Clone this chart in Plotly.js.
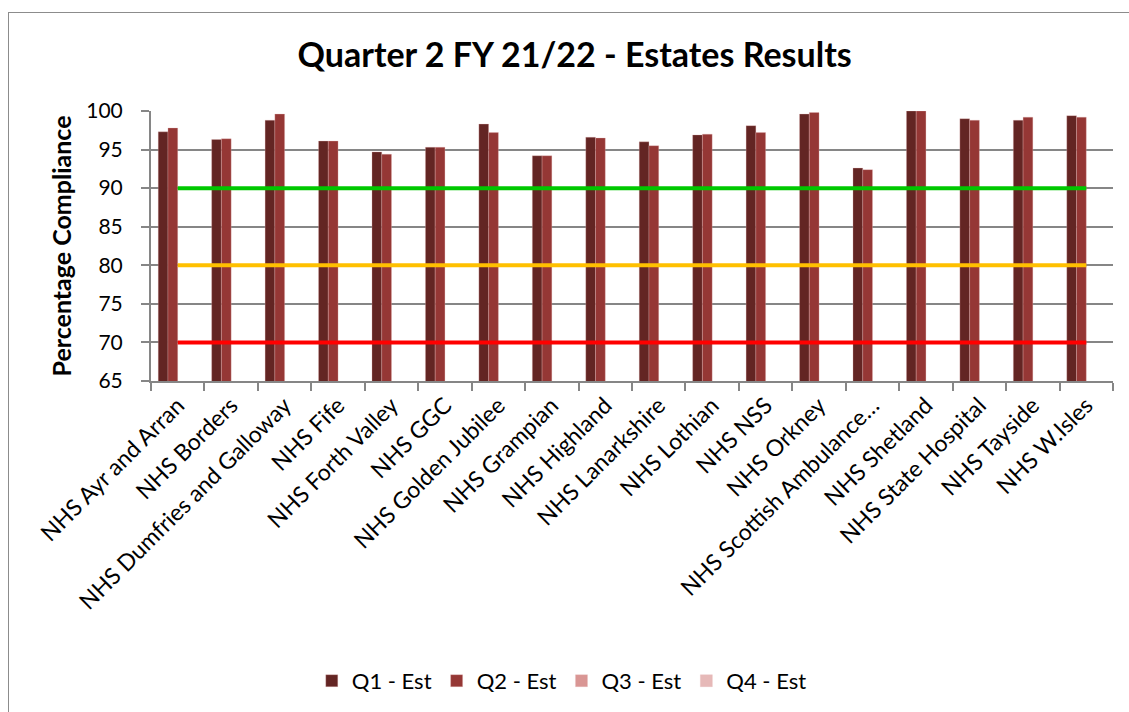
<!DOCTYPE html>
<html>
<head>
<meta charset="utf-8">
<script src="https://cdn.plot.ly/plotly-3.0.1.min.js"></script>
<style>
html,body{margin:0;padding:0;background:#fff;overflow:hidden;}
#frame{position:absolute;left:8px;top:12px;width:1140px;height:720px;border:1.5px solid #8c8c8c;box-sizing:border-box;}
#chart{position:absolute;left:0;top:0;width:1129px;height:712px;}
</style>
</head>
<body>
<div id="frame"></div>
<div id="chart"></div>
<script>
const categories = ["NHS Ayr and Arran","NHS Borders","NHS Dumfries and Galloway","NHS Fife","NHS Forth Valley","NHS GGC","NHS Golden Jubilee","NHS Grampian","NHS Highland","NHS Lanarkshire","NHS Lothian","NHS NSS","NHS Orkney","NHS Scottish Ambulance…","NHS Shetland","NHS State Hospital","NHS Tayside","NHS W.Isles"];
const q1 = [97.3,96.3,98.8,96.1,94.7,95.3,98.3,94.2,96.6,96.0,96.9,98.1,99.6,92.6,100,99.0,98.8,99.4];
const q2 = [97.8,96.4,99.6,96.1,94.4,95.3,97.2,94.2,96.5,95.5,97.0,97.2,99.8,92.4,100,98.8,99.2,99.2];
const q3 = categories.map(() => null);
const q4 = categories.map(() => null);
const seriesNames = ["Q1 - Est","Q2 - Est","Q3 - Est","Q4 - Est"];
const seriesColors = ["#632523","#953735","#D99694","#E6B9B8"];
const thresholds = [90, 80, 70];
const thresholdColors = ["#00C800","#FFC000","#FF0000"];

const seriesData = [q1,q2,q3,q4];
const traces = seriesData.map((vals,i) => ({
  type:"bar", x:categories, y:vals, name:seriesNames[i],
  marker:{color:seriesColors[i], line:{color:"rgba(230,185,184,0.6)", width:0.5}},
  hoverinfo:"x+y+name"
}));
thresholds.forEach((t,i) => {
  traces.push({type:"scatter", mode:"lines", x:categories, y:categories.map(()=>t),
    line:{color:thresholdColors[i], width:4}, showlegend:false, hoverinfo:"skip"});
});

const layout = {
  width:1129, height:712,
  paper_bgcolor:"rgba(0,0,0,0)", plot_bgcolor:"#fff",
  margin:{l:151, r:16, t:111, b:330},
  title:{text:"<b>Quarter 2 FY 21/22 - Estates Results</b>", x:0.509, xref:"container", xanchor:"center", y:0.922, yanchor:"middle",
    font:{family:"Lato, 'Open Sans', sans-serif", size:34, color:"#000"}},
  barmode:"group", bargap:0.27, bargroupgap:0,
  font:{family:"Lato, 'Open Sans', sans-serif", color:"#000"},
  xaxis:{type:"category", tickangle:-45, tickfont:{size:23}, ticks:"outside", tickson:"boundaries",
    ticklen:8, tickcolor:"#868686", tickwidth:2, showline:true, linecolor:"#868686", linewidth:2,
    showgrid:false, automargin:false},
  yaxis:{range:[65,100], dtick:5, tick0:65, tickfont:{size:21}, ticks:"outside", ticklen:8,
    ticklabelstandoff:14,
    tickcolor:"#868686", tickwidth:2, showline:true, linecolor:"#868686", linewidth:2,
    gridcolor:"#868686", gridwidth:2, zeroline:false, automargin:false,
    title:{text:"<b>Percentage Compliance</b>", font:{size:25}, standoff:8}},
  legend:{orientation:"h", x:0.427, xanchor:"center", y:-1.103, yanchor:"middle",
    font:{size:22}, traceorder:"normal", itemwidth:30},
  showlegend:true
};
Plotly.newPlot("chart", traces, layout, {displayModeBar:false, responsive:false});
</script>
</body>
</html>
